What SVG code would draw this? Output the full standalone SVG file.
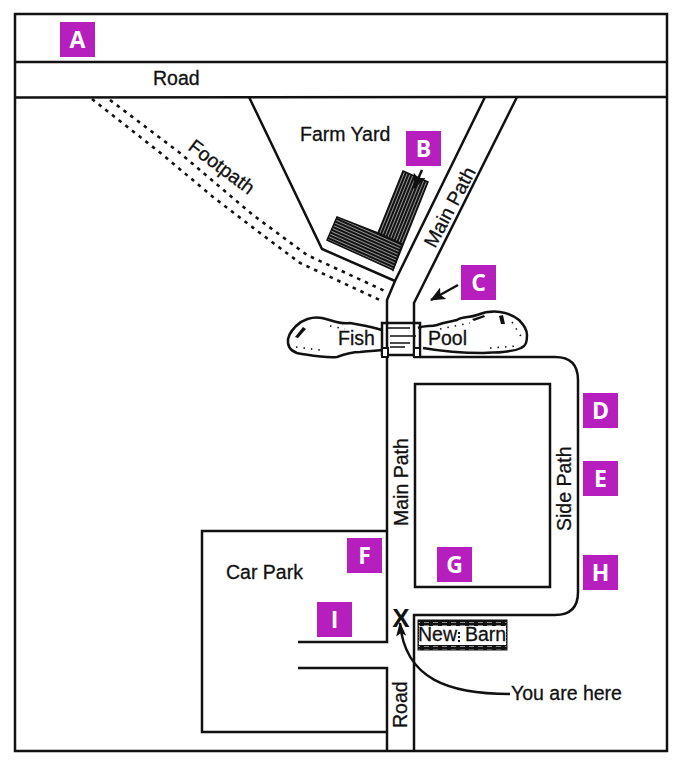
<svg xmlns="http://www.w3.org/2000/svg" width="683" height="766" viewBox="0 0 683 766">
<defs>
<pattern id="hatch" width="4" height="3" patternUnits="userSpaceOnUse" patternTransform="rotate(24)"><rect width="4" height="3" fill="#111"/><rect y="1.200" width="4" height="0.7" fill="#ccc"/></pattern>
<pattern id="hatch2" width="3" height="4" patternUnits="userSpaceOnUse" patternTransform="rotate(22)"><rect width="3" height="4" fill="#111"/><rect x="1.200" width="0.7" height="4" fill="#ccc"/></pattern>
<pattern id="barn" width="9" height="3" patternUnits="userSpaceOnUse"><rect width="9" height="3" fill="#111"/><rect x="1" y="1" width="5" height="0.8" fill="#aaa"/></pattern>
<marker id="ah" viewBox="0 0 14 12" refX="13" refY="6" markerWidth="15" markerHeight="13" markerUnits="userSpaceOnUse" orient="auto"><path d="M0 0L14 6L0 12L3 6z" fill="#111"/></marker>
<marker id="ah2" viewBox="0 0 14 10" refX="13" refY="5" markerWidth="15" markerHeight="10" markerUnits="userSpaceOnUse" orient="auto"><path d="M0 0L14 5L0 10L3 5z" fill="#111"/></marker>
</defs>
<style>
.l{fill:none;stroke:#111;stroke-width:2.500}
.d{fill:none;stroke:#111;stroke-width:2.600;stroke-dasharray:3.500 5}
.s{fill:none;stroke:#111;stroke-width:1.600}
.sp{fill:none;stroke:#111;stroke-width:1.600;stroke-dasharray:1.500 6}
.t{font-family:"Liberation Sans",Arial,sans-serif;font-size:19.500px;fill:#111;stroke:#111;stroke-width:.3}
.bx{fill:#b61fbd}
.bt{font-family:"Open Sans","Liberation Sans",sans-serif;font-weight:700;font-size:23px;fill:#fff;text-anchor:middle}
</style>
<rect width="683" height="766" fill="#fff"/>
<g id="connectors">
<path class="l" d="M15 14H667V751H15Z"/>
<path class="l" d="M15 62H667"/>
<path class="l" d="M15 97.500Q200 96 667 97"/>
<path class="l" d="M249 97L322 249L395 281"/>
<path class="l" d="M485 97L395 281L387 300V642H298"/>
<path class="l" d="M517 97L423 285L414 303V357"/>
<path class="l" d="M298 668H387V751"/>
<path class="l" d="M414 357H555Q578 357 578 380V592Q578 615 555 615H414V751"/>
<path class="l" d="M415 384H550V587H415Z"/>
<path class="l" d="M387 531H202V732H387"/>
<path class="d" d="M92 99L163 155L213 197L260 233L300 263L382 301"/>
<path class="d" d="M110 100L180 153L253 215L307 255L387 292"/>
<path class="l" d="M458 285L431 300" marker-end="url(#ah)"/>
<path class="l" d="M510 694C450 694 405 680 400 623" marker-end="url(#ah2)"/>
</g>
<g id="pool">
<path class="l" d="M382 330C372 327 360 325 350 323C340 325 332 320 322 318C312 316 302 320 296 326C290 332 287 337 288 343C289 350 294 353 302 354C315 356 326 358 337 357C345 354 352 352 360 352C368 351 375 351 382 350"/>
<path class="l" d="M418 328C425 325 430 327 437 325C445 322 450 322 457 320C463 316 470 318 477 315C485 312 493 311 500 312C508 313 514 316 519 320C524 325 527 329 527 335C527 342 526 346 521 348C515 351 510 351 503 352C496 353 490 352 483 353C465 353 440 351 423 348"/>
<path class="sp" d="M296 347L320 350M330 326L345 329M512 322L522 338M440 329L470 323M490 348L518 346"/>
<path d="M295 337L303 327L306 329L298 338Z M499 316L503 315L505 324L501 324Z M472 319L484 315L485 317L474 321Z" fill="#111"/>
<path class="l" d="M382 323H420V355H382Z"/>
<path class="s" d="M388 328H410M390 336H416M390 343H410M390 347H405"/>
<rect x="382" y="348" width="6" height="9" fill="#fff" stroke="#111" stroke-width="2"/>
<rect x="414" y="348" width="6" height="9" fill="#fff" stroke="#111" stroke-width="2"/>
<text class="t" x="338" y="345">Fish</text>
<text class="t" x="428" y="345">Pool</text>
</g>
<g id="farm-building">
<path d="M403 171L428 182L393 270L378 233Z" fill="url(#hatch2)" stroke="#111" stroke-width="1.500"/>
<path d="M337 217L378 233L402 244L393 270L327 240Z" fill="url(#hatch)" stroke="#111" stroke-width="1.500"/>
<path class="l" d="M422 170L414 188" marker-end="url(#ah)"/>
</g>
<g id="new-barn">
<rect x="418" y="620" width="89" height="30" fill="url(#barn)" stroke="#111" stroke-width="1"/>
<rect x="419" y="626" width="87" height="19" fill="#fff"/>
<text class="t" x="418" y="641">New</text><text class="t" x="465" y="641">Barn</text>
<path d="M459 632V642" stroke="#111" stroke-width="2" stroke-dasharray="2 2"/>
</g>
<g id="x-mark"><text x="401" y="627" text-anchor="middle" style="font-family:'Liberation Sans',sans-serif;font-size:26px;font-weight:700;fill:#111">X</text></g>
<g id="labels">
<text class="t" x="153" y="85">Road</text>
<text class="t" x="300" y="141">Farm Yard</text>
<text class="t" transform="translate(187 149) rotate(37)">Footpath</text>
<text class="t" transform="translate(435 249) rotate(-62)">Main Path</text>
<text class="t" transform="translate(408 526) rotate(-90)">Main Path</text>
<text class="t" transform="translate(571 531) rotate(-90)">Side Path</text>
<text class="t" transform="translate(407 728) rotate(-90)">Road</text>
<text class="t" x="226" y="579">Car Park</text>
<text class="t" x="511" y="700">You are here</text>
</g>
<g id="A"><rect class="bx" x="60" y="22" width="35" height="35"/><text class="bt" x="77.500" y="48">A</text></g>
<g id="B"><rect class="bx" x="406" y="131" width="35" height="35"/><text class="bt" x="423.500" y="157">B</text></g>
<g id="C"><rect class="bx" x="461" y="265" width="35" height="35"/><text class="bt" x="478.500" y="291">C</text></g>
<g id="D"><rect class="bx" x="583" y="393" width="35" height="35"/><text class="bt" x="600.500" y="419">D</text></g>
<g id="E"><rect class="bx" x="583" y="461" width="35" height="35"/><text class="bt" x="600.500" y="487">E</text></g>
<g id="F"><rect class="bx" x="347" y="538" width="35" height="35"/><text class="bt" x="364.500" y="564">F</text></g>
<g id="G"><rect class="bx" x="437" y="547" width="35" height="35"/><text class="bt" x="454.500" y="573">G</text></g>
<g id="H"><rect class="bx" x="583" y="555" width="35" height="35"/><text class="bt" x="600.500" y="581">H</text></g>
<g id="I"><rect class="bx" x="317" y="602" width="35" height="35"/><text class="bt" x="334.500" y="628">I</text></g>
</svg>
